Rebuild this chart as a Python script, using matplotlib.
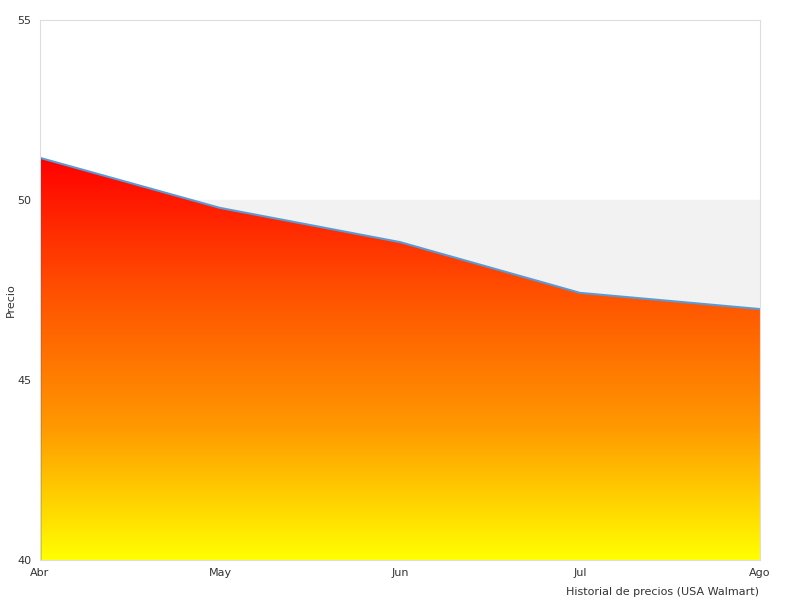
import matplotlib
matplotlib.use("Agg")
import matplotlib.pyplot as plt
import numpy as np
from matplotlib.colors import LinearSegmentedColormap
from matplotlib.patches import Polygon

months = ["Abr", "May", "Jun", "Jul", "Ago"]
prices = [51.17, 49.78, 48.83, 47.42, 46.97]
yticks = [40, 45, 50, 55]

fig = plt.figure(figsize=(8, 6), dpi=100)
ax = fig.add_axes([0.05, 0.0667, 0.9, 0.9])
x = np.arange(len(months))
ax.set_xlim(0, len(months) - 1)
ax.set_ylim(40, 55)
ax.axhspan(45, 50, color="#f2f2f2", zorder=0)

cmap = LinearSegmentedColormap.from_list("ry", ["#ffff00", "#ff9800", "#ff5000", "#ff0000"])
grad = np.linspace(0, 1, 256).reshape(-1, 1)
im = ax.imshow(grad, cmap=cmap, origin="lower", aspect="auto",
               extent=[0, len(months) - 1, 40, max(prices)], zorder=1)
poly = Polygon(list(zip(x, prices)) + [(x[-1], 40), (x[0], 40)], closed=True,
               transform=ax.transData, facecolor="none", edgecolor="none")
ax.add_patch(poly)
im.set_clip_path(poly)
ax.plot(x, prices, color="#5b9bd5", lw=1.5, zorder=2)
ax.plot([0, 0], [40, prices[0]], color="#333333", lw=1, zorder=2)

ax.set_xticks(x)
ax.set_xticklabels(months, fontsize=8, color="#333333")
ax.set_yticks(yticks)
ax.set_yticklabels([str(v) for v in yticks], fontsize=8, color="#333333")
ax.tick_params(length=0, pad=6)
for s in ax.spines.values():
    s.set_color("#dddddd")
fig.text(0.013, 0.5, "Precio", rotation=90, va="center", ha="center",
         fontsize=8, color="#333333")
fig.text(0.949, 0.008, "Historial de precios (USA Walmart)", ha="right",
         fontsize=8, color="#333333")
fig.savefig("out.png")
